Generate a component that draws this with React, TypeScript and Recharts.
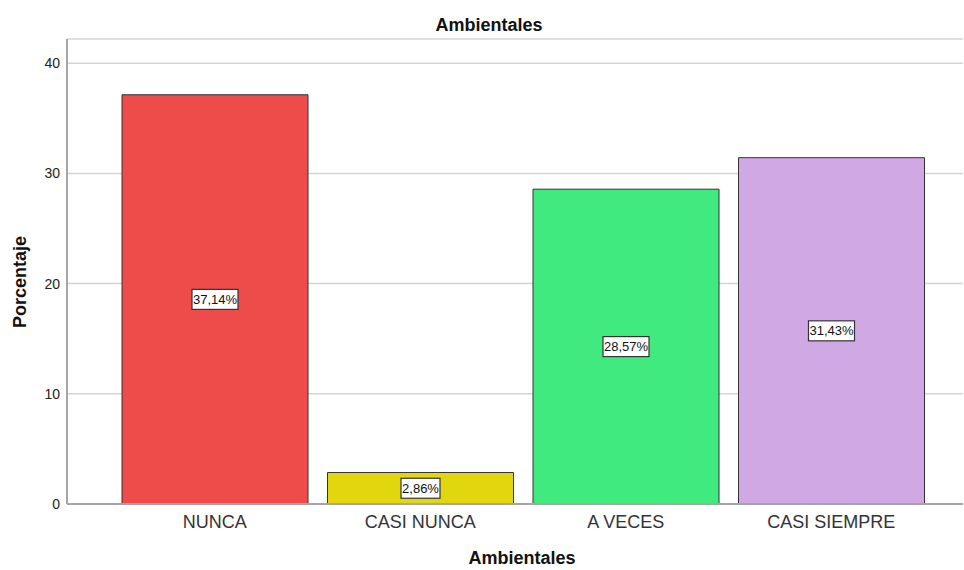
import { BarChart, Bar, XAxis, YAxis, CartesianGrid, Cell, LabelList, Label } from 'recharts';

const categories = ['NUNCA', 'CASI NUNCA', 'A VECES', 'CASI SIEMPRE'];
const percentages = [37.14, 2.86, 28.57, 31.43];
const percentLabels = ['37,14%', '2,86%', '28,57%', '31,43%'];
const barColors = ['#EE4B4B', '#E2D70F', '#40EA7E', '#D0A8E4'];
const yTicks = [0, 10, 20, 30, 40];

const data = categories.map((name, i) => ({
  name,
  value: percentages[i],
  label: percentLabels[i],
}));

const FONT = '"Liberation Sans", Arial, sans-serif';

const BoxLabel = (props: any) => {
  const { x, y, width, height, index } = props;
  const text = percentLabels[index];
  const cx = x + width / 2;
  const cy = y + height / 2;
  const w = text.length * 7 + 4;
  const h = 20;
  return (
    <g>
      <rect x={cx - w / 2} y={cy - h / 2} width={w} height={h} fill="#fff" stroke="#333" strokeWidth={1.2} />
      <text x={cx} y={cy + 4.5} textAnchor="middle" fontSize={13} fontFamily={FONT} fill="#111">
        {text}
      </text>
    </g>
  );
};

export default function App() {
  return (
    <div style={{ position: 'absolute', left: 0, top: 0, width: 964, height: 570, background: '#fff' }}>
      <BarChart
        width={964}
        height={570}
        data={data}
        margin={{ top: 39, right: 1, bottom: 26, left: 0 }}
        barCategoryGap={10}
      >
        <text x={489} y={31} textAnchor="middle" fontSize={18} fontWeight="bold" fontFamily={FONT} fill="#111">
          Ambientales
        </text>
        <CartesianGrid vertical={false} stroke="#d4d4d4" strokeWidth={1.5} />
        <XAxis
          dataKey="name"
          height={40}
          padding={{ left: 45, right: 29 }}
          axisLine={{ stroke: '#a6a6a6', strokeWidth: 2 }}
          tickLine={false}
          tickSize={0}
          tickMargin={11}
          tick={{ fontSize: 18, fill: '#333', fontFamily: FONT }}
        >
          <Label
            content={(p: any) => {
              const vb = p.viewBox;
              return (
                <text
                  x={vb.x + vb.width / 2 + 7}
                  y={564}
                  textAnchor="middle"
                  fontSize={18}
                  fontWeight="bold"
                  fontFamily={FONT}
                  fill="#111"
                >
                  Ambientales
                </text>
              );
            }}
          />
        </XAxis>
        <YAxis
          width={67}
          domain={[0, 42.2]}
          ticks={yTicks}
          allowDataOverflow
          axisLine={{ stroke: '#a6a6a6', strokeWidth: 2 }}
          tickLine={false}
          tickSize={0}
          tickMargin={7}
          tick={{ fontSize: 14, fill: '#222', fontFamily: FONT }}
        >
          <Label
            content={() => (
              <text
                transform="translate(26,282) rotate(-90)"
                textAnchor="middle"
                fontSize={18}
                fontWeight="bold"
                fontFamily={FONT}
                fill="#111"
              >
                Porcentaje
              </text>
            )}
          />
        </YAxis>
        <Bar dataKey="value" stroke="#333" strokeWidth={1} isAnimationActive={false}>
          {data.map((d, i) => (
            <Cell key={d.name} fill={barColors[i]} />
          ))}
          <LabelList dataKey="label" content={BoxLabel} />
        </Bar>
      </BarChart>
    </div>
  );
}
